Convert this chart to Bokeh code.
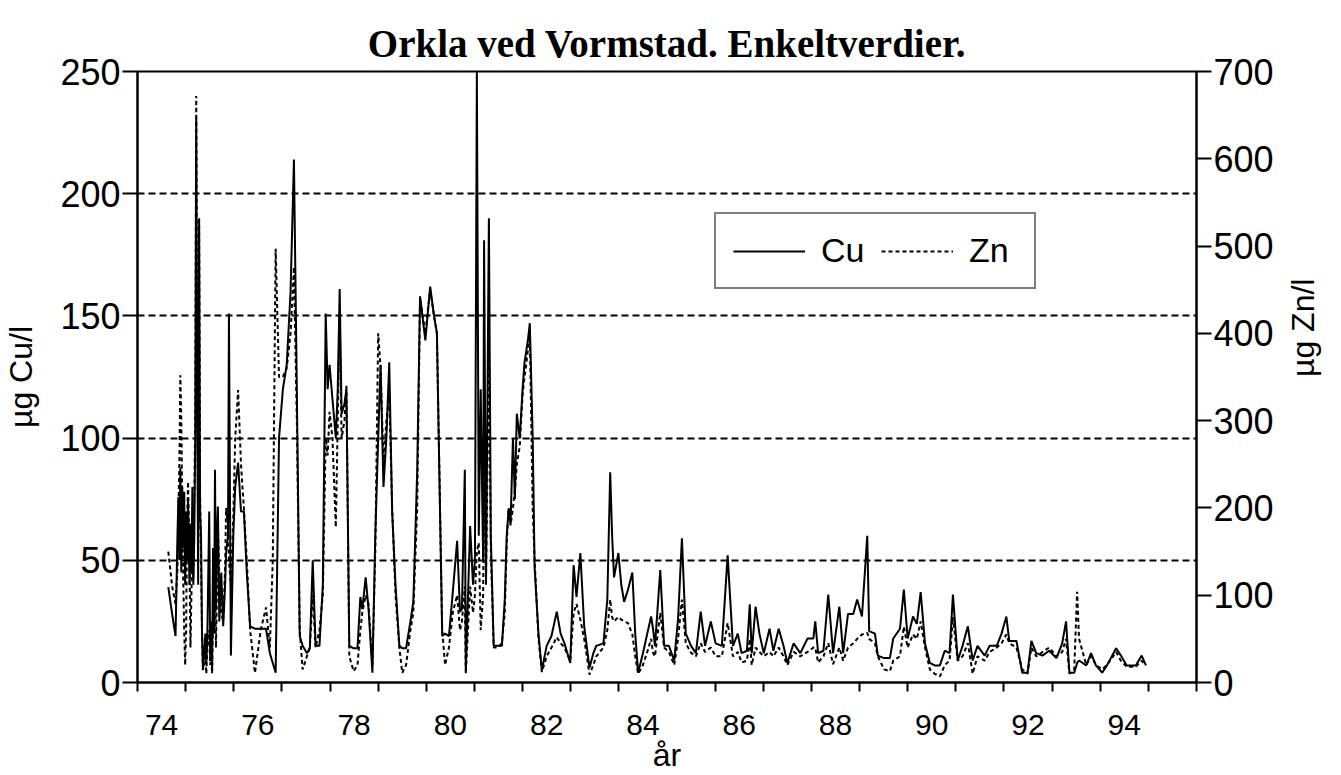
import math
from bokeh.plotting import figure
from bokeh.models import (ColumnDataSource, Range1d, LinearAxis, FixedTicker,
                          Legend, LegendItem)
from bokeh.embed import file_html
from bokeh.resources import INLINE

# ---------------- data ----------------
years = [74.64, 74.72, 74.79, 74.83, 74.85, 74.87, 74.89, 74.91, 74.93, 74.95,
         74.97, 74.99, 75.01, 75.03, 75.05, 75.08, 75.10, 75.12, 75.14, 75.16,
         75.18, 75.20, 75.22, 75.24, 75.26, 75.28, 75.30, 75.32, 75.34, 75.36,
         75.41, 75.43, 75.45, 75.49, 75.51, 75.53, 75.55, 75.57, 75.59, 75.61,
         75.63, 75.65, 75.67, 75.70, 75.74, 75.78, 75.82, 75.84, 75.88, 75.90,
         75.94, 75.99, 76.03, 76.09, 76.15, 76.21, 76.27, 76.34, 76.44, 76.56,
         76.67, 76.75, 76.81, 76.87, 76.94, 77.02, 77.10, 77.18, 77.25, 77.31,
         77.37, 77.43, 77.52, 77.58, 77.64, 77.70, 77.78, 77.85, 77.91, 77.95,
         77.99, 78.05, 78.12, 78.16, 78.20, 78.24, 78.30, 78.34, 78.40, 78.49,
         78.57, 78.63, 78.67, 78.74, 78.80, 78.88, 78.94, 79.00, 79.05, 79.11,
         79.17, 79.23, 79.29, 79.36, 79.44, 79.50, 79.58, 79.67, 79.73, 79.81,
         79.87, 79.98, 80.08, 80.16, 80.22, 80.33, 80.39, 80.47, 80.55, 80.64,
         80.70, 80.74, 80.80, 80.82, 80.91, 80.97, 81.01, 81.05, 81.09, 81.13,
         81.18, 81.20, 81.24, 81.30, 81.34, 81.40, 81.49, 81.57, 81.63, 81.67,
         81.71, 81.75, 81.80, 81.84, 81.88, 81.94, 82.00, 82.04, 82.11, 82.15,
         82.21, 82.25, 82.33, 82.40,
         82.50, 82.60, 82.71, 82.79, 82.87, 82.99, 83.06, 83.12, 83.20, 83.28,
         83.39, 83.47, 83.53, 83.68, 83.76, 83.82, 83.86, 83.90, 83.99, 84.05,
         84.11, 84.19, 84.28, 84.34, 84.40, 84.50, 84.59, 84.67, 84.71, 84.75,
         84.86, 84.94, 85.04, 85.15, 85.23, 85.31, 85.39, 85.50, 85.60, 85.70,
         85.79, 85.91, 86.01, 86.14, 86.26, 86.37, 86.47, 86.55, 86.66, 86.72,
         86.76, 86.84, 86.92, 87.01, 87.13, 87.21, 87.32, 87.42, 87.50, 87.63,
         87.77, 87.92, 88.04, 88.08, 88.14, 88.25, 88.35, 88.45, 88.58, 88.66,
         88.76, 88.87, 88.95, 89.05, 89.16, 89.20, 89.32, 89.38, 89.51, 89.63,
         89.70, 89.84, 89.92, 90.00, 90.11, 90.19, 90.27, 90.36, 90.46, 90.56,
         90.67, 90.77, 90.87, 90.94, 91.04, 91.14, 91.25, 91.35, 91.45, 91.60,
         91.70, 91.85, 91.95, 92.05, 92.11, 92.26, 92.38, 92.49, 92.57, 92.67,
         92.80, 92.94, 93.09, 93.21, 93.29, 93.36, 93.46, 93.52, 93.56, 93.71,
         93.81, 93.91, 94.04, 94.14, 94.33, 94.43, 94.55, 94.74, 94.86, 94.95]

cu = [39, 28, 19, 60, 76, 50, 88, 45, 80, 55,
      78, 40, 70, 50, 75, 40, 65, 45, 80, 40,
      60, 100, 231, 120, 40, 190, 70, 60, 20, 5,
      20, 8, 18, 70, 10, 25, 5, 55, 20, 87,
      30, 60, 72, 25, 45, 23, 40, 53, 60, 151,
      11, 60, 80, 90, 70, 70, 45, 23, 22, 22,
      22, 12, 8, 4, 100, 120, 130, 160, 214, 120,
      19, 15, 12, 14, 50, 15, 15, 40, 151, 120,
      130, 116, 100, 120, 161, 110, 114, 120, 15, 14,
      14, 35, 30, 43, 30, 4, 60, 100, 130, 80,
      100, 131, 70, 40, 15, 14, 14, 25, 33, 86,
      158, 140, 162, 150, 143, 19, 20, 19, 37, 58,
      29, 30, 87, 5, 64, 40, 50, 250, 60, 120,
      50, 181, 40, 190, 60, 15, 15, 15, 34, 60,
      71, 65, 100, 75, 110, 100, 120, 131, 140, 147,
      100, 47, 20, 5,
      15, 19, 29, 20, 16, 8, 48, 35, 53, 23,
      6, 12, 15, 16, 34, 86, 60, 43, 53, 40,
      33, 38, 45, 20, 4, 12, 20, 27, 22, 15,
      46, 15, 15, 9, 26, 59, 20, 15, 12, 29,
      15, 25, 16, 15, 52, 15, 20, 12, 13, 32,
      12, 31, 20, 12, 22, 13, 22, 15, 8, 16,
      12, 18, 18, 25, 12, 13, 36, 12, 31, 12,
      28, 28, 34, 27, 60, 21, 20, 11, 10, 10,
      18, 22, 38, 18, 27, 24, 37, 16, 8, 7,
      7, 13, 12, 36, 9, 15, 23, 9, 15, 11,
      15, 15, 20, 27, 17, 17, 4, 4, 17, 12,
      11, 13, 10, 16, 25, 4, 4, 8, 9, 7,
      12, 7, 4, 7, 14, 11, 7, 7, 11, 7]

zn = [150, 110, 90, 130, 200, 250, 352, 300, 200, 120,
      60, 20, 60, 180, 230, 150, 40, 100, 160, 120,
      220, 300, 672, 400, 160, 530, 220, 140, 60, 15,
      30, 10, 40, 60, 20, 30, 10, 80, 60, 120,
      40, 100, 180, 120, 80, 70, 130, 200, 180, 140,
      110, 190, 280, 335, 250, 200, 140, 60, 11, 60,
      86, 40, 140, 497, 350, 350, 360, 400, 476, 300,
      60, 15, 30, 40, 100, 40, 60, 100, 280, 260,
      310, 280, 178, 300, 420, 280, 300, 340, 30, 13,
      20, 60, 80, 100, 90, 20, 150, 400, 360, 250,
      300, 330, 200, 100, 40, 11, 20, 60, 80, 200,
      440, 400, 450, 420, 400, 60, 20, 40, 80, 100,
      60, 70, 110, 10, 110, 80, 100, 150, 160, 60,
      100, 230, 120, 380, 150, 40, 40, 45, 80, 160,
      200, 180, 200, 220, 250, 270, 330, 350, 380, 400,
      200, 140, 50, 12,
      30, 40, 52, 45, 40, 25, 80, 90, 72, 50,
      9, 20, 30, 40, 60, 95, 75, 70, 75, 72,
      70, 68, 55, 30, 10, 20, 35, 50, 34, 30,
      80, 40, 35, 20, 50, 95, 45, 34, 30, 45,
      35, 40, 30, 30, 68, 30, 35, 23, 25, 50,
      20, 40, 35, 30, 35, 30, 40, 30, 20, 35,
      30, 35, 40, 40, 23, 30, 45, 21, 40, 25,
      40, 45, 50, 55, 57, 50, 45, 30, 15, 13,
      25, 30, 64, 40, 55, 50, 70, 40, 15, 10,
      7, 20, 25, 75, 25, 30, 45, 10, 30, 25,
      35, 40, 45, 55, 45, 40, 15, 10, 40, 30,
      35, 40, 30, 35, 50, 10, 15, 104, 50, 20,
      30, 20, 15, 20, 35, 25, 18, 18, 25, 20]

x_label_positions = [74.5, 76.5, 78.5, 80.5, 82.5, 84.5, 86.5, 88.5, 90.5, 92.5, 94.5]
x_labels = ["74", "76", "78", "80", "82", "84", "86", "88", "90", "92", "94"]
year_marks = list(range(74, 97))
cu_ticks = [0, 50, 100, 150, 200, 250]
zn_ticks = [0, 100, 200, 300, 400, 500, 600, 700]
grid_levels = [50, 100, 150, 200]

src = ColumnDataSource(data=dict(year=years, cu=cu, zn=zn))

p = figure(width=1341, height=775, output_backend="svg", toolbar_location=None,
           x_range=Range1d(74, 96), y_range=Range1d(0, 250),
           min_border_left=134, min_border_right=144,
           min_border_top=71, min_border_bottom=92)
p.extra_y_ranges = {"zn": Range1d(0, 700)}

p.background_fill_color = "white"
p.border_fill_color = "white"
p.outline_line_color = "black"
p.outline_line_width = 2

# title
p.title.text = "Orkla ved Vormstad. Enkeltverdier."
p.title.align = "center"
p.title.vertical_align = "top"
p.title.text_font = "Liberation Serif"
p.title.text_font_size = "39px"
p.title.text_font_style = "bold"
p.title.text_color = "black"
p.title.standoff = 10

# grid
p.xgrid.visible = False
p.ygrid.ticker = FixedTicker(ticks=grid_levels)
p.ygrid.grid_line_color = "black"
p.ygrid.grid_line_width = 2
p.ygrid.grid_line_dash = "7 4"

# x axis
xa = p.xaxis[0]
xa.ticker = FixedTicker(ticks=x_label_positions, minor_ticks=year_marks)
xa.major_label_overrides = {pos: lab for pos, lab in zip(x_label_positions, x_labels)}
xa.major_tick_out = 0
xa.major_tick_in = 0
xa.minor_tick_out = 9
xa.minor_tick_in = 0
xa.minor_tick_line_width = 2
xa.minor_tick_line_color = "black"
xa.axis_line_width = 2
xa.axis_line_color = "black"
xa.major_label_text_font = "Liberation Sans"
xa.major_label_text_font_size = "30px"
xa.major_label_text_color = "black"
xa.major_label_text_line_height = 1.0
xa.major_label_standoff = 23
xa.axis_label = "år"
xa.axis_label_text_font = "Liberation Sans"
xa.axis_label_text_font_size = "32px"
xa.axis_label_text_font_style = "normal"
xa.axis_label_text_color = "black"
xa.axis_label_text_line_height = 1.0
xa.axis_label_standoff = -1

# left axis
ya = p.yaxis[0]
ya.ticker = FixedTicker(ticks=cu_ticks)
ya.minor_tick_line_color = None
ya.major_tick_out = 15
ya.major_tick_in = 0
ya.major_tick_line_width = 2
ya.axis_line_width = 2
ya.major_label_text_font = "Liberation Sans"
ya.major_label_text_font_size = "36px"
ya.major_label_text_color = "black"
ya.major_label_standoff = 2
ya.axis_label = "µg Cu/l"
ya.axis_label_text_font = "Liberation Sans"
ya.axis_label_text_font_size = "32px"
ya.axis_label_text_font_style = "normal"
ya.axis_label_text_color = "black"
ya.axis_label_standoff = 18

# right axis
ra = LinearAxis(y_range_name="zn", ticker=FixedTicker(ticks=zn_ticks))
ra.minor_tick_line_color = None
ra.major_tick_out = 15
ra.major_tick_in = 0
ra.major_tick_line_width = 2
ra.axis_line_width = 2
ra.major_label_text_font = "Liberation Sans"
ra.major_label_text_font_size = "36px"
ra.major_label_text_color = "black"
ra.major_label_standoff = 2
ra.axis_label = "µg Zn/l"
ra.axis_label_text_font = "Liberation Sans"
ra.axis_label_text_font_size = "32px"
ra.axis_label_text_font_style = "normal"
ra.axis_label_text_color = "black"
ra.axis_label_text_line_height = 0.7
ra.axis_label_standoff = 26
ra.axis_label_orientation = math.pi / 2
p.add_layout(ra, "right")

# series
cu_r = p.line(x="year", y="cu", source=src, line_color="black", line_width=2)
zn_r = p.line(x="year", y="zn", source=src, y_range_name="zn",
              line_color="black", line_width=2, line_dash="4 3")

legend = Legend(items=[LegendItem(label="Cu", renderers=[cu_r]),
                       LegendItem(label="Zn", renderers=[zn_r])],
                orientation="horizontal", location=(577, 393),
                glyph_width=72, glyph_height=30, label_standoff=16,
                label_width=48, spacing=12, padding=17, margin=0,
                border_line_color="black", border_line_width=2,
                background_fill_color="white", background_fill_alpha=1,
                label_text_font="Liberation Sans", label_text_font_size="34px",
                label_text_color="black")
p.add_layout(legend)

open("out.html", "w").write(file_html(p, INLINE))
